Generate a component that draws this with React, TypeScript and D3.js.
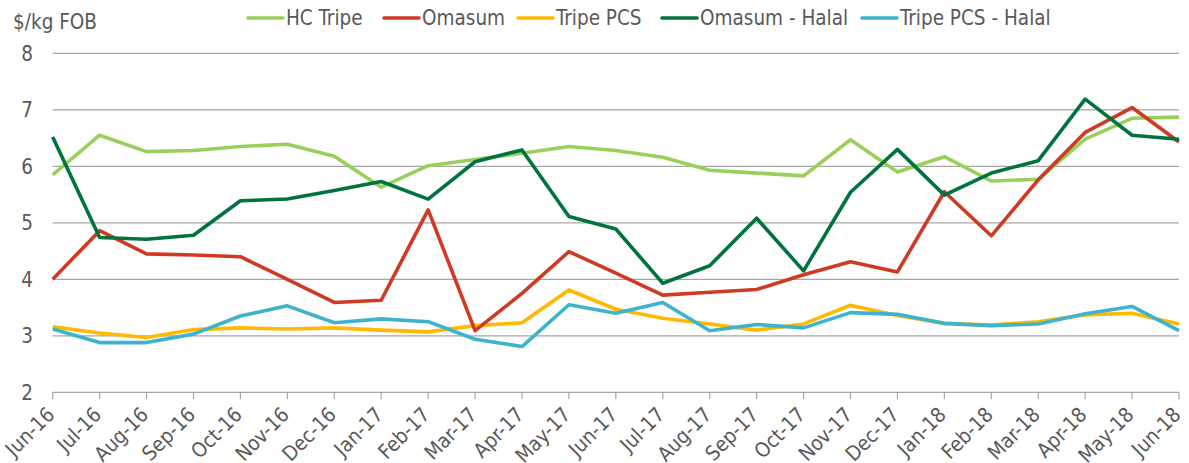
import React from "react";
import * as d3 from "d3";

const months = [
  "Jun-16", "Jul-16", "Aug-16", "Sep-16", "Oct-16", "Nov-16", "Dec-16", "Jan-17",
  "Feb-17", "Mar-17", "Apr-17", "May-17", "Jun-17", "Jul-17", "Aug-17", "Sep-17",
  "Oct-17", "Nov-17", "Dec-17", "Jan-18", "Feb-18", "Mar-18", "Apr-18", "May-18", "Jun-18",
];

const hcTripe = [5.85, 6.55, 6.26, 6.28, 6.35, 6.39, 6.18, 5.63, 6.01, 6.12, 6.23, 6.35, 6.28, 6.16, 5.93, 5.88, 5.83, 6.47, 5.9, 6.17, 5.74, 5.77, 6.48, 6.85, 6.87];
const omasum = [4.0, 4.86, 4.45, 4.43, 4.4, 4.0, 3.59, 3.63, 5.23, 3.09, 3.75, 4.49, 4.11, 3.72, 3.77, 3.82, 4.08, 4.31, 4.13, 5.55, 4.77, 5.76, 6.6, 7.04, 6.43];
const tripePcs = [3.16, 3.05, 2.97, 3.11, 3.14, 3.12, 3.14, 3.1, 3.07, 3.18, 3.23, 3.81, 3.47, 3.31, 3.21, 3.1, 3.21, 3.54, 3.36, 3.22, 3.19, 3.25, 3.37, 3.4, 3.21];
const omasumHalal = [6.52, 4.74, 4.71, 4.78, 5.39, 5.42, 5.57, 5.73, 5.42, 6.08, 6.29, 5.11, 4.89, 3.93, 4.24, 5.08, 4.15, 5.54, 6.3, 5.49, 5.88, 6.1, 7.19, 6.55, 6.48];
const tripePcsHalal = [3.12, 2.88, 2.88, 3.03, 3.35, 3.53, 3.23, 3.3, 3.25, 2.94, 2.81, 3.55, 3.4, 3.59, 3.09, 3.2, 3.14, 3.41, 3.38, 3.22, 3.18, 3.21, 3.39, 3.52, 3.09];

const seriesNames = ["HC Tripe", "Omasum", "Tripe PCS", "Omasum - Halal", "Tripe PCS - Halal"];
const seriesValues = [hcTripe, omasum, tripePcs, omasumHalal, tripePcsHalal];
const colors = ["#9bcf5c", "#cf3a24", "#ffb900", "#00733e", "#3db4cc"];
const yTicks = [2, 3, 4, 5, 6, 7, 8];
const yTitle = "$/kg FOB";

const W = 1189;
const H = 463;
const FONT = "'DejaVu Sans Condensed', 'DejaVu Sans', sans-serif";
const TEXT = "#595959";
const FS = 20.5;
const legendX = [248, 384, 518, 662, 862];
const drawOrder = [0, 2, 4, 1, 3];

export default function App() {
  const x = d3.scalePoint<string>().domain(months).range([52.7, 1179]);
  const y = d3.scaleLinear().domain([2, 8]).range([392.3, 53.3]);
  const line = d3
    .line<number>()
    .x((_, i) => x(months[i]) as number)
    .y((d) => y(d));

  return (
    <svg
      width={W}
      height={H}
      style={{ position: "absolute", left: 0, top: 0, background: "#fff" }}
      fontFamily={FONT}
    >
      {yTicks.map((t) => (
        <g key={t}>
          <line x1={52.7} x2={1179} y1={y(t)} y2={y(t)} stroke="#a6a6a6" strokeWidth={1.2} />
          <text x={33} y={y(t)} dy="0.36em" textAnchor="end" fontSize={FS} fill={TEXT}>
            {t}
          </text>
        </g>
      ))}
      {months.map((m) => (
        <line
          key={"t" + m}
          x1={x(m)}
          x2={x(m)}
          y1={y(2)}
          y2={y(2) + 7}
          stroke="#a6a6a6"
          strokeWidth={1.2}
        />
      ))}
      {months.map((m) => {
        const px = (x(m) as number) + 3;
        const py = 416;
        return (
          <text
            key={"l" + m}
            x={px}
            y={py}
            textAnchor="end"
            fontSize={FS}
            fill={TEXT}
            transform={`rotate(-45 ${px} ${py})`}
          >
            {m}
          </text>
        );
      })}
      <text x={13} y={29} fontSize={FS} fill={TEXT}>
        {yTitle}
      </text>
      {drawOrder.map((k) => (
        <path
          key={"s" + k}
          d={line(seriesValues[k]) || ""}
          fill="none"
          stroke={colors[k]}
          strokeWidth={3.6}
          strokeLinejoin="round"
        />
      ))}
      {seriesNames.map((name, k) => (
        <g key={"lg" + k}>
          <line
            x1={legendX[k]}
            x2={legendX[k] + 35}
            y1={18}
            y2={18}
            stroke={colors[k]}
            strokeWidth={3.6}
            strokeLinecap="round"
          />
          <text x={legendX[k] + 38} y={18} dy="0.36em" fontSize={FS} fill={TEXT}>
            {name}
          </text>
        </g>
      ))}
    </svg>
  );
}
